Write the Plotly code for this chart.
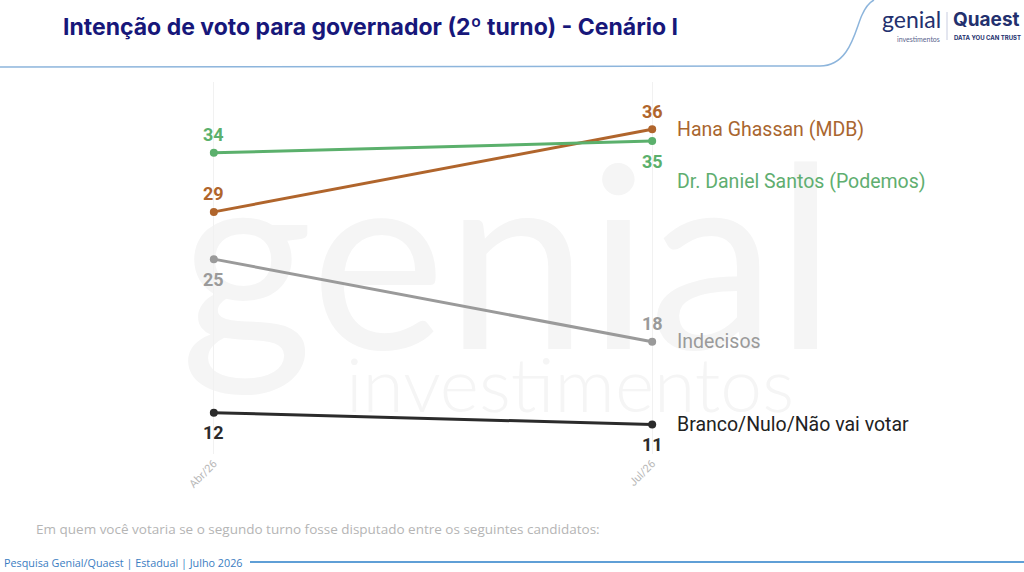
import plotly.graph_objects as go

# dados da pesquisa
periodos = ["Abr/26", "Jul/26"]
candidatos = ["Hana Ghassan (MDB)", "Dr. Daniel Santos (Podemos)", "Indecisos", "Branco/Nulo/Não vai votar"]
hana = [29, 36]
daniel = [34, 35]
indecisos = [25, 18]
branco = [12, 11]

serie_valores = [hana, daniel, indecisos, branco]
cores = ["#b0652c", "#5bb06c", "#9a9a9a", "#2b2b2b"]
cores_rotulo = ["#a9662f", "#5fae70", "#9a9a9a", "#222222"]
# +1 = numero acima do ponto, -1 = abaixo
lado_texto = [[1, 1], [1, -1], [-1, 1], [-1, -1]]
desloc_rotulo = [0, -40, 0, 0]

W, H = 1024, 572
ML, MR, MT, MB = 170, 328, 82, 118


def px_x(p):
    return (p - ML) / (W - ML - MR)


def px_y(p):
    return (H - MB - p) / (H - MT - MB)


fig = go.Figure()

for nome, vals, cor, lados in zip(candidatos, serie_valores, cores, lado_texto):
    fig.add_trace(go.Scatter(
        x=periodos, y=vals, name=nome,
        mode="lines+markers",
        line=dict(color=cor, width=3),
        marker=dict(color=cor, size=8),
        cliponaxis=False,
        hoverinfo="skip",
    ))
    for per, v, lado in zip(periodos, vals, lados):
        fig.add_annotation(x=per, y=v, xref="x", yref="y", text=f"<b>{v}</b>",
                           showarrow=False, xanchor="center", yanchor="middle",
                           yshift=18 if lado > 0 else -20,
                           font=dict(family="Roboto", size=18, color=cor))

# rotulos a direita
for nome, vals, cor, dy in zip(candidatos, serie_valores, cores_rotulo, desloc_rotulo):
    fig.add_annotation(x=periodos[-1], y=vals[-1], xref="x", yref="y",
                       text=nome, showarrow=False, xanchor="left", yanchor="middle",
                       xshift=23, yshift=dy,
                       font=dict(family="Roboto", size=19.5, color=cor))

shapes = []
# marca d'agua
shapes.append(dict(type="rect", xref="paper", yref="paper", layer="below",
                   x0=px_x(188), x1=px_x(828), y0=px_y(377), y1=px_y(117),
                   line=dict(width=0), fillcolor="rgba(0,0,0,0)",
                   label=dict(text="genial", textposition="middle center",
                              font=dict(family="Lato", size=255, color="#f5f5f5"))))
shapes.append(dict(type="rect", xref="paper", yref="paper", layer="below",
                   x0=px_x(330), x1=px_x(810), y0=px_y(412), y1=px_y(352),
                   line=dict(width=0), fillcolor="rgba(0,0,0,0)",
                   label=dict(text="investimentos", textposition="middle center",
                              font=dict(family="Lato", size=75, color="#f5f5f5", weight=300))))
# linha do cabecalho
shapes.append(dict(type="path", xref="paper", yref="paper", layer="above",
                   path=f"M {px_x(0)},{px_y(67)} L {px_x(820)},{px_y(66)} "
                        f"C {px_x(850)},{px_y(66)} {px_x(855)},{px_y(30)} {px_x(862)},{px_y(15)} "
                        f"C {px_x(866)},{px_y(6)} {px_x(870)},{px_y(2)} {px_x(874)},{px_y(0)}",
                   line=dict(color="#8db5dc", width=1.5)))
# linha do rodape
shapes.append(dict(type="line", xref="paper", yref="paper", layer="above",
                   x0=px_x(250), x1=px_x(1024), y0=px_y(562), y1=px_y(562),
                   line=dict(color="#5f9fd6", width=2)))
# separador do logo
shapes.append(dict(type="line", xref="paper", yref="paper", layer="above",
                   x0=px_x(947), x1=px_x(947), y0=px_y(12), y1=px_y(40),
                   line=dict(color="#c8cde0", width=1)))

anns = [
    dict(text="<b>Intenção de voto para governador (2º turno) - Cenário I</b>",
         x=px_x(61), y=px_y(27), xanchor="left", yanchor="middle",
         font=dict(family="Inter", size=23, color="#17177a")),
    dict(text="Em quem você votaria se o segundo turno fosse disputado entre os seguintes candidatos:",
         x=px_x(34), y=px_y(529), xanchor="left", yanchor="middle",
         font=dict(family="Open Sans", size=13.5, color="#b5b5b5")),
    dict(text="Pesquisa Genial/Quaest | Estadual | Julho 2026",
         x=px_x(2), y=px_y(562), xanchor="left", yanchor="middle",
         font=dict(family="Open Sans", size=10.8, color="#3b7dc2")),
    dict(text="genial", x=px_x(942), y=px_y(34), xanchor="right", yanchor="bottom",
         borderpad=0, font=dict(family="Lato", size=23, color="#23306e")),
    dict(text="investimentos", x=px_x(941), y=px_y(34), xanchor="right", yanchor="top",
         borderpad=0, font=dict(family="Lato", size=7, color="#5a648e")),
    dict(text="<b>Quaest</b>", x=px_x(952), y=px_y(32), xanchor="left", yanchor="bottom",
         borderpad=0, font=dict(family="Inter", size=19, color="#23306e")),
    dict(text="<b>DATA YOU CAN TRUST</b>", x=px_x(953), y=px_y(33), xanchor="left", yanchor="top",
         borderpad=0, font=dict(family="Inter", size=6, color="#23306e")),
]
for a in anns:
    a.update(xref="paper", yref="paper", showarrow=False)
    fig.add_annotation(**a)

fig.update_layout(
    width=W, height=H,
    margin=dict(l=ML, r=MR, t=MT, b=MB),
    paper_bgcolor="white", plot_bgcolor="rgba(0,0,0,0)",
    showlegend=False,
    shapes=shapes,
    font=dict(family="Roboto"),
)
fig.update_xaxes(type="category", range=[-0.1, 1.1], showgrid=True, gridcolor="#f1f1f1",
                 gridwidth=1, zeroline=False, showline=False, ticks="",
                 tickangle=-45, tickfont=dict(family="Roboto", size=11, color="#b8b8b8"))
fig.update_yaxes(range=[8.5, 40], showgrid=False, zeroline=False, showticklabels=False,
                 showline=False)

fig.write_html("out.html", config={"displayModeBar": False},
               post_script="document.body.style.margin='0';")
